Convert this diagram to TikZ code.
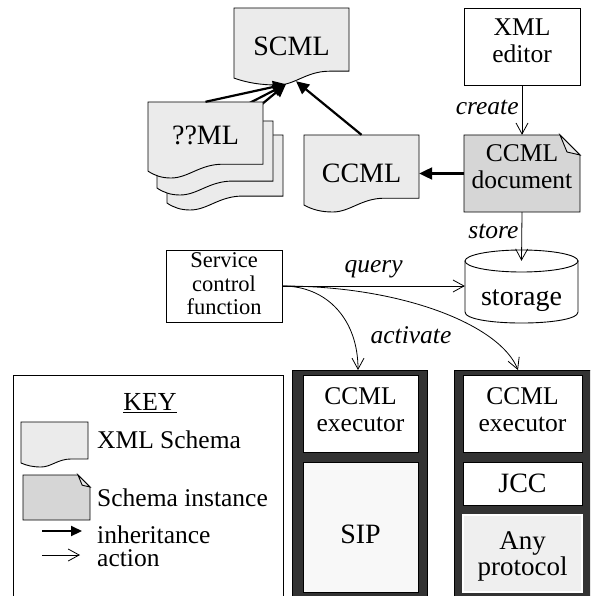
\documentclass[tikz,border=0pt]{standalone}
\usepackage{fontspec}
\setmainfont{Liberation Serif}
\usetikzlibrary{arrows.meta}
\definecolor{schemafill}{HTML}{EBEBEB}
\definecolor{instfill}{HTML}{D6D6D6}
\definecolor{flapfill}{HTML}{E8E8E8}
\definecolor{devdark}{HTML}{333333}
\definecolor{sipfill}{HTML}{F8F8F8}
\definecolor{anyfill}{HTML}{EFEFEF}
\newcommand\fsz[2]{\fontsize{#1}{#2}\selectfont}
% wavy-bottom document shape: left, top, right, lowest bottom, position of lowest point (fraction)
\newcommand\wavedoc[5]{%
  \filldraw[docline, fill=schemafill] (#1,#2) -- (#3,#2) -- (#3,{#4-0.12*(#3-#1)})
   -- ({#1+(#5+0.45)*(#3-#1)},{#4-0.12*(#3-#1)})
   .. controls ({#1+(#5+0.25)*(#3-#1)},{#4-0.12*(#3-#1)}) and ({#1+(#5+0.15)*(#3-#1)},#4) ..
   ({#1+#5*(#3-#1)},#4)
   .. controls ({#1+0.6*#5*(#3-#1)},#4) and ({#1+0.3*#5*(#3-#1)},{#4-0.02*(#3-#1)}) ..
   (#1,{#4-0.06*(#3-#1)}) -- cycle;}
% folded-corner document: left, top, right, bottom, fold size
\newcommand\folddoc[5]{%
  \filldraw[docline, fill=instfill] (#1,#2) -- ({#3-#5},#2) -- (#3,{#2+#5}) -- (#3,#4) -- (#1,#4) -- cycle;
  \filldraw[docline, fill=flapfill] ({#3-#5},#2) -- ({#3-0.65*#5},{#2+0.85*#5}) -- (#3,{#2+#5}) -- cycle;}
\tikzset{
  docline/.style={draw=black, line width=0.9pt},
  lbl/.style={inner sep=0pt, align=center},
  bigtxt/.style={font=\fsz{28}{30}},
  midtxt/.style={font=\fsz{25.5}{27}},
  itl/.style={font=\itshape\fsz{25.5}{28}, inner sep=0pt},
  keytxt/.style={anchor=west, inner sep=0pt, font=\fsz{25.5}{28}},
  boxw/.style={draw=black, line width=0.9pt, fill=white, inner sep=0pt, align=center},
  devbox/.style={draw=black, fill=devdark, line width=0.9pt, inner sep=0pt},
  inh/.style={line width=2.2pt, -{Triangle[length=13pt,width=12pt]}},
  act/.style={line width=0.8pt, -{Straight Barb[length=11pt,width=12pt,line width=0.8pt]}},
}
\begin{document}
\begin{tikzpicture}[x=1pt,y=-1pt]
\clip (0,0) rectangle (590,596);
\fill[white] (0,0) rectangle (590,596);

% SCML
\wavedoc{234}{8}{349}{85}{0.38}
\node[lbl, bigtxt, minimum width=115pt, minimum height=77pt] (scml) at (291.5,46.5) {SCML};

% ??ML stack
\wavedoc{167}{135}{283}{210}{0.2}
\node[lbl, minimum width=116pt, minimum height=60pt] (qml3) at (225,165) {};
\draw[inh] (qml3.north) -- ([xshift=-5.5pt,yshift=1pt]scml.south);
\wavedoc{157}{121}{273}{195}{0.2}
\node[lbl, minimum width=116pt, minimum height=60pt] (qml2) at (215,151) {};
\draw[inh] (qml2.north) -- ([xshift=-5.5pt,yshift=1pt]scml.south);
\wavedoc{148}{102}{263}{178}{0.2}
\node[lbl, bigtxt, minimum width=115pt, minimum height=66pt] (qml1) at (205.5,135) {??ML};
\draw[inh] (qml1.north) -- ([xshift=-5.5pt,yshift=1pt]scml.south);

% CCML schema
\wavedoc{304}{135}{419}{212}{0.25}
\node[lbl, bigtxt, minimum width=115pt, minimum height=77pt] (ccml) at (361.5,173.5) {CCML};
\draw[inh] (ccml.north) -- ([xshift=4.5pt,yshift=4pt]scml.south);

% XML editor
\node[boxw, midtxt, text depth=12pt, minimum width=116pt, minimum height=77pt] (editor) at (522,46.5) {XML\\editor};

% CCML document
\folddoc{464}{135}{580}{212}{20}
\node[lbl, midtxt, text depth=14pt, minimum width=116pt, minimum height=77pt] (doc) at (522,173.5) {CCML\\document};
\draw[inh] (doc.west) -- (ccml.east);
\draw[act] (editor.south) -- (doc.north) node[itl, pos=0.45, left=3pt] (createlbl) {create};

% storage
\filldraw[docline, fill=white] (465,261) -- (465,312) .. controls (465,326.7) and (578,326.7) .. (578,312) -- (578,261) -- cycle;
\filldraw[docline, fill=white] (521.5,261) ellipse [x radius=56.5pt, y radius=11pt];
\node[lbl, bigtxt, minimum width=113pt, minimum height=80pt] (storage) at (521.5,301) {storage};
\draw[act] (doc.south) -- (storage.north) node[itl, pos=0.4, left=3pt] (storelbl) {store};

% service control function
\node[boxw, font=\fsz{22.5}{23.5}, text depth=4pt, minimum width=116pt, minimum height=72pt] (service) at (224,286) {Service\\control\\function};
\draw[act] (service.east) -- (service.east -| storage.west) node[itl, midway, above=8pt] (querylbl) {query};

% devices
\node[devbox, minimum width=135pt, minimum height=240pt, anchor=north] (dev1) at (359.5,370) {};
\node[devbox, minimum width=137pt, minimum height=240pt, anchor=north] (dev2) at (522.5,370) {};
\node[boxw, midtxt, text depth=7pt, minimum width=115pt, minimum height=77pt] (exec1) at (360.5,413.5) {CCML\\executor};
\node[boxw, bigtxt, fill=sipfill, text height=34pt, minimum width=115pt, minimum height=130pt] (sip) at (360.5,527) {SIP};
\node[boxw, midtxt, text depth=7pt, minimum width=119pt, minimum height=77pt] (exec2) at (522.5,413.5) {CCML\\executor};
\node[boxw, bigtxt, minimum width=119pt, minimum height=43pt] (jcc) at (522.5,483.5) {JCC};
\node[boxw, font=\fsz{27}{25.5}, fill=anyfill, draw=white, line width=1.2pt, text depth=0pt, minimum width=119pt, minimum height=77pt] (anyp) at (522.5,553.5) {Any\\protocol};

\draw[act] (service.east) .. controls +(45,0) and +(0,-50) .. ([xshift=-1.5pt]dev1.north);
\draw[act] (service.east) .. controls +(120,0) and +(-18,-45) .. ([xshift=-4.5pt]dev2.north);
\node[itl] (actlbl) at (411,335) {activate};

% KEY
\node[draw, line width=0.9pt, fill=white, minimum width=270pt, minimum height=250pt, anchor=north west, inner sep=0pt] (keybox) at (13,375) {};
\node[inner sep=0pt, font=\fsz{26}{28}] (keytitle) at (150,403) {\underline{KEY}};
\wavedoc{21}{422}{88}{467}{0.3}
\node[keytxt] (kschema) at (97,440) {XML Schema};
\folddoc{23}{475}{90}{520}{12}
\node[keytxt] (kinst) at (97,498) {Schema instance};
\coordinate (kinA) at (42,531);
\coordinate (kinB) at (82,531);
\draw[inh, -{Triangle[length=11pt,width=10pt]}] (kinA) -- (kinB);
\node[keytxt] (kinh) at (97,534.5) {inheritance};
\coordinate (kacA) at (42,555);
\coordinate (kacB) at (80,555);
\draw[act] (kacA) -- (kacB);
\node[keytxt] (kact) at (97,558) {action};
\end{tikzpicture}
\end{document}
